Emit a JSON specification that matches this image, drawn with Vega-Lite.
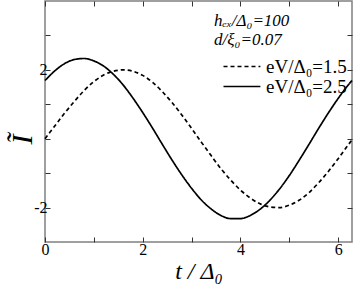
{
  "$schema": "https://vega.github.io/schema/vega-lite/v6.json",
  "width": 307,
  "height": 241,
  "autosize": {"type": "none"},
  "padding": {"left": 45, "top": 1, "right": 2, "bottom": 48},
  "background": "white",
  "config": {
    "view": {"stroke": "#808080", "strokeWidth": 1.5},
    "font": "Liberation Serif"
  },
  "data": {
    "values": [
      {"t": 0, "I": 0, "series": "eV/Δ₀=1.5"},
      {"t": 0.2, "I": 0.37, "series": "eV/Δ₀=1.5"},
      {"t": 0.4, "I": 0.74, "series": "eV/Δ₀=1.5"},
      {"t": 0.6, "I": 1.08, "series": "eV/Δ₀=1.5"},
      {"t": 0.8, "I": 1.40, "series": "eV/Δ₀=1.5"},
      {"t": 1.0, "I": 1.66, "series": "eV/Δ₀=1.5"},
      {"t": 1.2, "I": 1.85, "series": "eV/Δ₀=1.5"},
      {"t": 1.4, "I": 1.96, "series": "eV/Δ₀=1.5"},
      {"t": 1.6, "I": 2.0, "series": "eV/Δ₀=1.5"},
      {"t": 1.8, "I": 1.96, "series": "eV/Δ₀=1.5"},
      {"t": 2.0, "I": 1.84, "series": "eV/Δ₀=1.5"},
      {"t": 2.2, "I": 1.64, "series": "eV/Δ₀=1.5"},
      {"t": 2.4, "I": 1.37, "series": "eV/Δ₀=1.5"},
      {"t": 2.6, "I": 1.05, "series": "eV/Δ₀=1.5"},
      {"t": 2.8, "I": 0.69, "series": "eV/Δ₀=1.5"},
      {"t": 3.0, "I": 0.30, "series": "eV/Δ₀=1.5"},
      {"t": 3.2, "I": -0.10, "series": "eV/Δ₀=1.5"},
      {"t": 3.4, "I": -0.49, "series": "eV/Δ₀=1.5"},
      {"t": 3.6, "I": -0.87, "series": "eV/Δ₀=1.5"},
      {"t": 3.8, "I": -1.20, "series": "eV/Δ₀=1.5"},
      {"t": 4.0, "I": -1.49, "series": "eV/Δ₀=1.5"},
      {"t": 4.2, "I": -1.72, "series": "eV/Δ₀=1.5"},
      {"t": 4.4, "I": -1.89, "series": "eV/Δ₀=1.5"},
      {"t": 4.6, "I": -1.98, "series": "eV/Δ₀=1.5"},
      {"t": 4.8, "I": -2.0, "series": "eV/Δ₀=1.5"},
      {"t": 5.0, "I": -1.93, "series": "eV/Δ₀=1.5"},
      {"t": 5.2, "I": -1.79, "series": "eV/Δ₀=1.5"},
      {"t": 5.4, "I": -1.57, "series": "eV/Δ₀=1.5"},
      {"t": 5.6, "I": -1.28, "series": "eV/Δ₀=1.5"},
      {"t": 5.8, "I": -0.95, "series": "eV/Δ₀=1.5"},
      {"t": 6.0, "I": -0.58, "series": "eV/Δ₀=1.5"},
      {"t": 6.2, "I": -0.19, "series": "eV/Δ₀=1.5"},
      {"t": 6.2832, "I": -0.03, "series": "eV/Δ₀=1.5"},
      {"t": 0, "I": 1.69, "series": "eV/Δ₀=2.5"},
      {"t": 0.2, "I": 1.97, "series": "eV/Δ₀=2.5"},
      {"t": 0.4, "I": 2.18, "series": "eV/Δ₀=2.5"},
      {"t": 0.6, "I": 2.30, "series": "eV/Δ₀=2.5"},
      {"t": 0.8, "I": 2.33, "series": "eV/Δ₀=2.5"},
      {"t": 1.0, "I": 2.26, "series": "eV/Δ₀=2.5"},
      {"t": 1.2, "I": 2.11, "series": "eV/Δ₀=2.5"},
      {"t": 1.4, "I": 1.87, "series": "eV/Δ₀=2.5"},
      {"t": 1.6, "I": 1.56, "series": "eV/Δ₀=2.5"},
      {"t": 1.8, "I": 1.18, "series": "eV/Δ₀=2.5"},
      {"t": 2.0, "I": 0.76, "series": "eV/Δ₀=2.5"},
      {"t": 2.2, "I": 0.31, "series": "eV/Δ₀=2.5"},
      {"t": 2.4, "I": -0.16, "series": "eV/Δ₀=2.5"},
      {"t": 2.6, "I": -0.62, "series": "eV/Δ₀=2.5"},
      {"t": 2.8, "I": -1.05, "series": "eV/Δ₀=2.5"},
      {"t": 3.0, "I": -1.44, "series": "eV/Δ₀=2.5"},
      {"t": 3.2, "I": -1.78, "series": "eV/Δ₀=2.5"},
      {"t": 3.4, "I": -2.04, "series": "eV/Δ₀=2.5"},
      {"t": 3.6, "I": -2.23, "series": "eV/Δ₀=2.5"},
      {"t": 3.8, "I": -2.32, "series": "eV/Δ₀=2.5"},
      {"t": 4.0, "I": -2.32, "series": "eV/Δ₀=2.5"},
      {"t": 4.2, "I": -2.23, "series": "eV/Δ₀=2.5"},
      {"t": 4.4, "I": -2.05, "series": "eV/Δ₀=2.5"},
      {"t": 4.6, "I": -1.79, "series": "eV/Δ₀=2.5"},
      {"t": 4.8, "I": -1.46, "series": "eV/Δ₀=2.5"},
      {"t": 5.0, "I": -1.07, "series": "eV/Δ₀=2.5"},
      {"t": 5.2, "I": -0.63, "series": "eV/Δ₀=2.5"},
      {"t": 5.4, "I": -0.17, "series": "eV/Δ₀=2.5"},
      {"t": 5.6, "I": 0.30, "series": "eV/Δ₀=2.5"},
      {"t": 5.8, "I": 0.75, "series": "eV/Δ₀=2.5"},
      {"t": 6.0, "I": 1.17, "series": "eV/Δ₀=2.5"},
      {"t": 6.2, "I": 1.55, "series": "eV/Δ₀=2.5"},
      {"t": 6.2832, "I": 1.69, "series": "eV/Δ₀=2.5"}
    ]
  },
  "layer": [
    {
      "mark": {"type": "line", "interpolate": "monotone", "color": "black", "strokeWidth": 1.7},
      "encoding": {
        "x": {
          "field": "t", "type": "quantitative",
          "scale": {"domain": [0, 6.2832], "nice": false, "zero": false},
          "axis": {
            "orient": "bottom",
            "values": [0, 1, 2, 3, 4, 5, 6],
            "labelExpr": "datum.value % 2 == 0 ? datum.label : ''",
            "domain": false, "grid": false,
            "tickSize": -5, "tickColor": "#333", "tickWidth": 1,
            "labelFont": "Liberation Serif", "labelFontSize": 16, "labelColor": "black",
            "labelPadding": 4, "labelFlush": false,
            "title": "t / Δ₀",
            "titleFont": "Liberation Serif", "titleFontSize": 24, "titleFontStyle": "italic",
            "titleFontWeight": "normal", "titleColor": "black", "titlePadding": 2
          }
        },
        "y": {
          "field": "I", "type": "quantitative",
          "scale": {"domain": [-3, 4], "nice": false, "zero": false},
          "axis": {
            "orient": "left",
            "values": [-2, -1, 0, 1, 2, 3],
            "labelExpr": "datum.value == 2 ? '2' : (datum.value == -2 ? '-2' : '')",
            "domain": false, "grid": false,
            "tickSize": -5, "tickColor": "#333", "tickWidth": 1,
            "labelFont": "Liberation Serif", "labelFontSize": 16, "labelColor": "black",
            "labelPadding": 3,
            "title": "Ĩ",
            "titleFont": "Liberation Serif", "titleFontSize": 30, "titleFontStyle": "italic",
            "titleFontWeight": "normal", "titleColor": "black",
            "titleX": -14, "titleY": 138, "titleAngle": -90,
            "titleAlign": "center", "titleBaseline": "alphabetic"
          }
        },
        "strokeDash": {
          "field": "series", "type": "nominal",
          "scale": {"domain": ["eV/Δ₀=1.5", "eV/Δ₀=2.5"], "range": [[4, 3], [1, 0]]},
          "legend": {
            "orient": "none", "legendX": 169, "legendY": 12,
            "title": ["hₑₓ/Δ₀=100", "d/ξ₀=0.07"],
            "titleFont": "Liberation Serif", "titleFontSize": 17, "titleFontStyle": "italic",
            "titleFontWeight": "normal", "titleColor": "black", "titleLineHeight": 19,
            "titlePadding": 8,
            "labelFont": "Liberation Serif", "labelFontSize": 19, "labelColor": "black",
            "labelOffset": 33,
            "symbolType": "M0,0H12.3", "symbolSize": 36,
            "symbolStrokeColor": "black", "symbolStrokeWidth": 1.5,
            "rowPadding": 0
          }
        }
      }
    },
    {
      "mark": {"type": "point", "opacity": 0},
      "encoding": {
        "x": {
          "field": "t", "type": "quantitative",
          "axis": {
            "orient": "top", "values": [0, 1, 2, 3, 4, 5, 6], "labels": false,
            "domain": false, "grid": false, "tickSize": -5, "tickColor": "#333", "title": null
          }
        },
        "y": {
          "field": "I", "type": "quantitative",
          "axis": {
            "orient": "right", "values": [-2, -1, 0, 1, 2, 3], "labels": false,
            "domain": false, "grid": false, "tickSize": -5, "tickColor": "#333", "title": null
          }
        }
      }
    }
  ],
  "resolve": {"axis": {"x": "independent", "y": "independent"}}
}
